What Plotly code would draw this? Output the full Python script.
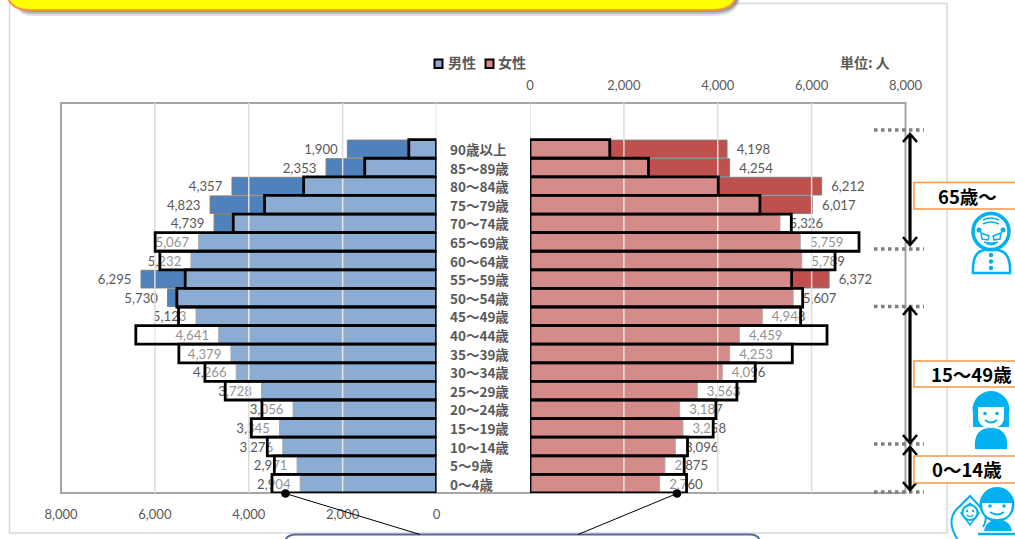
import plotly.graph_objects as go

categories = ["90歳以上", "85～89歳", "80～84歳", "75～79歳", "70～74歳", "65～69歳", "60～64歳",
              "55～59歳", "50～54歳", "45～49歳", "40～44歳", "35～39歳", "30～34歳", "25～29歳",
              "20～24歳", "15～19歳", "10～14歳", "5～9歳", "0～4歳"]
male_now = [1900, 2353, 4357, 4823, 4739, 5067, 5232, 6295, 5730, 5123, 4641, 4379, 4266, 3728,
            3056, 3345, 3276, 2971, 2904]
female_now = [4198, 4254, 6212, 6017, 5326, 5759, 5789, 6372, 5607, 4948, 4459, 4253, 4096, 3563,
              3187, 3258, 3096, 2875, 2760]
male_compare = [590, 1529, 2830, 3662, 4330, 5994, 5894, 5354, 5532, 5496, 6406, 5489, 4934, 4501,
                3719, 3946, 3605, 3455, 3505]
female_compare = [1699, 2524, 4010, 4899, 5567, 7010, 6499, 5574, 5809, 5766, 6328, 5588, 4799, 4408,
                  3960, 3903, 3356, 3285, 3335]
x_ticks = [0, 2000, 4000, 6000, 8000]
grid_ticks = [0, 2000, 4000, 6000]

W, H = 1015, 539
FONT = "Lato, 'Noto Sans CJK JP'"
CJK = "'Noto Sans CJK JP'"
GREY = "#595959"
BLUE = "#00B0F0"
MALE = "#4F81BD"
FEMALE = "#C0504D"
VEIL = "rgba(255,255,255,0.34)"
Y_RANGE = [18.5, -2.47]


def px(x):
    return x / W


def py(y):
    return 1 - y / H


def path(*cmds):
    out = []
    for c in cmds:
        if isinstance(c, str):
            out.append(c)
        else:
            out.append(f"{px(c[0]):.5f},{py(c[1]):.5f}")
    return " ".join(out)


shapes = []


def add_path(d, fill=None, line=None, lw=1, dash=None, layer="above"):
    shapes.append(dict(type="path", xref="paper", yref="paper", path=d, layer=layer,
                       fillcolor=fill or "rgba(0,0,0,0)",
                       line=dict(color=line or "rgba(0,0,0,0)", width=lw if line else 0, dash=dash)))


def add_rect(x0, y0, x1, y1, fill=None, line=None, lw=1, layer="above"):
    shapes.append(dict(type="rect", xref="paper", yref="paper", x0=px(x0), x1=px(x1), y0=py(y0), y1=py(y1),
                       layer=layer, fillcolor=fill or "rgba(0,0,0,0)",
                       line=dict(color=line or "rgba(0,0,0,0)", width=lw if line else 0)))


def add_circle(cx, cy, r, fill=None, line=None, lw=1, layer="above"):
    shapes.append(dict(type="circle", xref="paper", yref="paper", x0=px(cx - r), x1=px(cx + r),
                       y0=py(cy + r), y1=py(cy - r), layer=layer, fillcolor=fill or "rgba(0,0,0,0)",
                       line=dict(color=line or "rgba(0,0,0,0)", width=lw if line else 0)))


def add_line(x0, y0, x1, y1, color, lw=1, dash=None, layer="above"):
    shapes.append(dict(type="line", xref="paper", yref="paper", x0=px(x0), x1=px(x1), y0=py(y0), y1=py(y1),
                       layer=layer, line=dict(color=color, width=lw, dash=dash)))


fig = go.Figure()


def panel(values, compare, color, xa, ya, grid_x, grid_y, over_x, over_y, name, pad_left):
    # order: value bars and labels, then gridlines, then the translucent comparison bars
    fig.add_trace(go.Bar(y=categories, x=values, orientation="h", xaxis=xa, yaxis=ya, name=name,
                         width=0.95, marker=dict(color=color, line=dict(color="#7F7F7F", width=1)),
                         text=[(f"\u2002{v:,}" if pad_left else f"{v:,}\u2002") for v in values],
                         textposition="outside", cliponaxis=False, textangle=0,
                         textfont=dict(family=FONT, size=13.2, color=GREY), hoverinfo="x+y"))
    for t in grid_ticks:
        fig.add_trace(go.Scatter(x=[t, t], y=[0, 1], mode="lines", xaxis=grid_x, yaxis=grid_y, showlegend=False,
                                 line=dict(color="#DDDDDD", width=1.5), hoverinfo="skip"))
    fig.add_trace(go.Bar(y=categories, x=compare, orientation="h", xaxis=over_x, yaxis=over_y,
                         width=1.0, showlegend=False, name=name + "(比較)",
                         marker=dict(color=VEIL, line=dict(color="#000000", width=2.8)), hoverinfo="x+y"))


panel(male_now, male_compare, MALE, "x", "y", "x3", "y3", "x5", "y5", "男性", False)
panel(female_now, female_compare, FEMALE, "x2", "y2", "x4", "y4", "x6", "y6", "女性", True)

L0, L1, R0, R1 = 61, 436.5, 530, 905.5
T, B = 103, 493
dom_l = [px(L0), px(L1)]
dom_r = [px(R0), px(R1)]
dom_y = [py(B), py(T)]
tick_font = dict(family=FONT, size=13, color=GREY)
hidden = dict(visible=False, showgrid=False, zeroline=False)
y_common = dict(type="category", categoryorder="array", categoryarray=categories, range=Y_RANGE,
                domain=dom_y, showgrid=False, zeroline=False, showticklabels=False, ticks="")

# ---------- frame and page furniture ----------
add_rect(9.5, 3.5, 947, 533, fill="#FFFFFF", line="#D9D9D9", lw=1.5, layer="below")
add_rect(L0, T, R1, B, line="#A6A6A6", lw=2, layer="below")

# title box, cut by the top edge
for off, col in ((6, "rgba(90,90,90,0.18)"), (4, "rgba(90,90,90,0.28)"), (2, "rgba(90,90,90,0.35)")):
    add_path(path("M", (10 + off, -5), "L", (738 + off / 2, -5), "Q", (736 + off / 2, 10 + off), (714, 10 + off),
                  "L", (32, 10 + off), "Q", (14, 10 + off), (10 + off, -5), "Z"), fill=col)
add_path(path("M", (8, -20), "L", (737, -20), "L", (735, -2), "Q", (732, 10), (712, 10), "L", (30, 10),
              "Q", (12, 10), (8, -2), "Z"), fill="#FFFF00", line="#F79646", lw=2)

# legend
for x, fill in ((434.5, "#8CAAD4"), (485.5, "#D58A88")):
    add_rect(x, 59.5, x + 8, 68, fill=fill, line="#000000", lw=2)

# callout below the plot
add_path(path("M", (285, 545), "L", (285, 542), "Q", (286, 534.5), (296, 534.5), "L", (750, 534.5),
              "Q", (759, 534.5), (760, 542), "L", (760, 545), "Z"), fill="#FFFFFF", line="#4F6D9E", lw=2)
add_line(285.5, 493.5, 420, 534.5, "#000000", 1)
add_line(677, 493.5, 578, 534.5, "#000000", 1)
add_circle(285.5, 493.5, 4.3, fill="#000000")
add_circle(677, 493.5, 4.3, fill="#000000")

# age-band brackets
for y in (130, 249, 306.5, 444, 492):
    add_line(874, y, 924, y, "#7F7F7F", 3.5, dash="dot")
for y0, y1 in ((134, 245), (307, 443), (447, 490)):
    add_line(910, y0, 910, y1, "#000000", 3.2)
    add_path(path("M", (903, y0 + 8), "L", (910, y0), "L", (917, y0 + 8)), line="#000000", lw=2.6)
    add_path(path("M", (903, y1 - 8), "L", (910, y1), "L", (917, y1 - 8)), line="#000000", lw=2.6)
for y0, y1 in ((182.5, 209), (361, 387), (456, 483)):
    add_rect(914, y0, 1030, y1, fill="#FFFFFF", line="#F79646", lw=1.5)

# elder icon
add_path(path("M", (973, 273), "Q", (972, 251), (985, 250), "L", (997, 250), "Q", (1011, 251), (1010, 273), "Z"),
         fill="#FFFFFF", line=BLUE, lw=2.5)
add_circle(991, 231.5, 18, fill="#FFFFFF", line=BLUE, lw=3.5)
for y in (255, 261.5, 268):
    add_circle(991, y, 2.2, fill=BLUE)
add_path(path("M", (983, 220), "Q", (991, 216), (999, 220)), line=BLUE, lw=1.5)
add_path(path("M", (983, 224), "Q", (991, 220), (999, 224)), line=BLUE, lw=1.5)
add_path(path("M", (981, 233), "L", (989, 236), "L", (988, 240), "L", (982, 239), "Z"), line=BLUE, lw=1.5)
add_path(path("M", (1001, 233), "L", (993, 236), "L", (994, 240), "L", (1000, 239), "Z"), line=BLUE, lw=1.5)
add_circle(979, 230, 2.5, fill=BLUE)
add_circle(1003, 230, 2.5, fill=BLUE)
add_path(path("M", (984, 242), "Q", (991, 248), (998, 242), "Q", (991, 244), (984, 242), "Z"), fill=BLUE, line=BLUE, lw=1)

# girl icon
add_path(path("M", (975, 449), "Q", (973, 428), (991, 428), "Q", (1009, 428), (1007, 449), "Z"), fill=BLUE)
add_circle(991, 409.5, 18.5, fill=BLUE)
add_rect(973, 415, 1009, 427, fill=BLUE)
add_path(path("M", (978, 407), "L", (1004, 407), "L", (1004, 418), "Q", (1003, 428), (991, 428),
              "Q", (979, 428), (978, 418), "Z"), fill="#FFFFFF")
add_circle(985, 413.5, 1.8, fill=BLUE)
add_circle(997, 413.5, 1.8, fill=BLUE)
add_path(path("M", (985, 420), "Q", (991, 425), (997, 420)), line=BLUE, lw=1.8)

# parent and baby icon
add_path(path("M", (958, 540), "Q", (946, 522), (956, 510), "L", (970, 496), "L", (984, 511), "Q", (988, 520), (983, 527)),
         fill="#FFFFFF", line=BLUE, lw=2)
add_path(path("M", (961, 513), "L", (970, 503), "L", (979, 513), "L", (970, 525), "Z"), fill="#FFFFFF", line=BLUE, lw=1.5)
add_circle(970, 512.5, 7.5, fill="#FFFFFF", line=BLUE, lw=2)
add_circle(967, 511, 1.2, fill=BLUE)
add_circle(973, 511, 1.2, fill=BLUE)
add_path(path("M", (966.5, 515), "Q", (970, 518), (973.5, 515)), line=BLUE, lw=1.2)
add_path(path("M", (984, 531), "Q", (986, 520), (998, 520), "Q", (1010, 520), (1012, 531), "Z"), fill=BLUE)
add_circle(997, 504.5, 17.5, fill=BLUE)
add_path(path("M", (982, 503), "L", (1012, 503), "Q", (1012, 519), (997, 519), "Q", (982, 519), (982, 503), "Z"), fill="#FFFFFF")
add_circle(990, 506, 1.8, fill=BLUE)
add_circle(1004, 506, 1.8, fill=BLUE)
add_path(path("M", (990, 512), "Q", (997, 517), (1004, 512)), line=BLUE, lw=1.8)
add_line(978, 534, 1015, 534, BLUE, 2.5)


def text(x, y, s, xanchor="left", size=13.5, color=GREY):
    return dict(xref="paper", yref="paper", x=px(x), y=py(y), text=f"<b>{s}</b>", showarrow=False,
                xanchor=xanchor, yanchor="middle", font=dict(family=CJK, size=size, color=color), align="left")


annotations = [dict(xref="paper", yref="y", x=px(448), y=cat, text=f"<b>{cat}</b>", showarrow=False,
                    xanchor="left", yanchor="middle", font=dict(family=CJK, size=13.5, color=GREY))
               for cat in categories]
annotations += [
    text(446, 62.5, "男性", size=14),
    text(495.5, 62.5, "女性", size=14),
    text(838, 62, "単位: 人", size=14),
    text(967, 195.5, "65歳～", xanchor="center", size=18.5, color="#000000"),
    text(971, 373.5, "15～49歳", xanchor="center", size=18.5, color="#000000"),
    text(967, 469, "0～14歳", xanchor="center", size=18.5, color="#000000"),
]

fig.update_layout(
    template="none",
    width=W, height=H, autosize=False, margin=dict(l=0, r=0, t=0, b=0, pad=0),
    paper_bgcolor="#FFFFFF", plot_bgcolor="rgba(0,0,0,0)", barmode="overlay", showlegend=False,
    font=dict(family=FONT, size=13, color=GREY),
    shapes=shapes, annotations=annotations,
    xaxis=dict(domain=dom_l, range=[8000, 0], tickmode="array", tickvals=x_ticks, ticktext=[f"{v:,}" for v in x_ticks],
               side="bottom", ticks="outside", ticklen=9, tickcolor="rgba(0,0,0,0)", showgrid=False, zeroline=False,
               tickfont=tick_font, anchor="y", showline=False, automargin=False),
    xaxis2=dict(domain=dom_r, range=[0, 8000], tickmode="array", tickvals=x_ticks, ticktext=[f"{v:,}" for v in x_ticks],
                side="top", ticks="outside", ticklen=7, tickcolor="rgba(0,0,0,0)", showgrid=False, zeroline=False,
                tickfont=tick_font, anchor="y2", showline=False, automargin=False),
    xaxis3=dict(domain=dom_l, range=[8000, 0], overlaying="x", anchor="y3", **hidden),
    xaxis4=dict(domain=dom_r, range=[0, 8000], overlaying="x2", anchor="y4", **hidden),
    xaxis5=dict(domain=dom_l, range=[8000, 0], overlaying="x", anchor="y5", **hidden),
    xaxis6=dict(domain=dom_r, range=[0, 8000], overlaying="x2", anchor="y6", **hidden),
    yaxis=dict(anchor="x", automargin=False, **y_common),
    yaxis2=dict(anchor="x2", automargin=False, **y_common),
    yaxis3=dict(anchor="x3", overlaying="y", domain=dom_y, range=[0, 1], **hidden),
    yaxis4=dict(anchor="x4", overlaying="y2", domain=dom_y, range=[0, 1], **hidden),
    yaxis5=dict(anchor="x5", overlaying="y", **y_common),
    yaxis6=dict(anchor="x6", overlaying="y2", **y_common),
)

fig.write_html("out.html", config=dict(displayModeBar=False),
               post_script="document.body.style.margin='0';document.body.style.overflow='hidden';")
